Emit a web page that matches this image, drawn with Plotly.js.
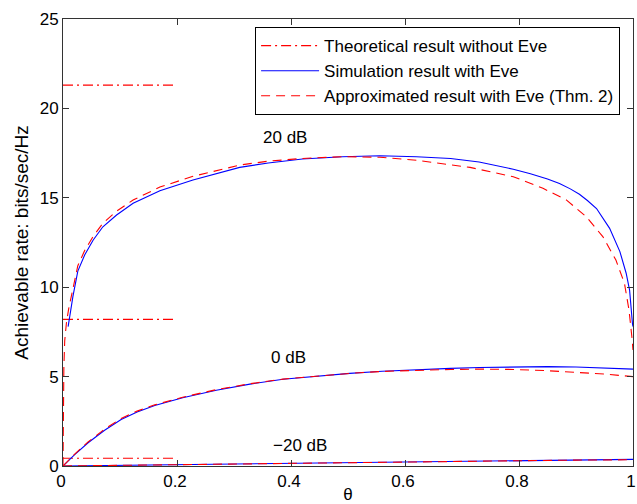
<!DOCTYPE html>
<html>
<head>
<meta charset="utf-8">
<script src="https://cdn.plot.ly/plotly-3.0.1.min.js"></script>
<style>html,body{margin:0;padding:0;background:#fff;}#chart{width:637px;height:504px;}</style>
</head>
<body>
<div id="chart"></div>
<script>
// Theoretical result without Eve (horizontal reference segments)
const theoX = [0, 0.2];
const theo20 = [21.3, 21.3];
const theo0 = [8.2, 8.2];
const theoM20 = [0.43, 0.43];

// Simulation result with Eve, 20 dB
const sim20X = [0.009, 0.0175, 0.026, 0.038, 0.053, 0.070, 0.094, 0.123, 0.170, 0.228, 0.31, 0.36, 0.42, 0.49, 0.556, 0.62, 0.68, 0.73, 0.79, 0.82, 0.85, 0.871, 0.89, 0.906, 0.92, 0.936, 0.959, 0.977, 0.988, 0.994, 0.999, 1.0];
const sim20Y = [7.8, 9.5, 10.9, 11.8, 12.64, 13.38, 14.04, 14.69, 15.4, 16.0, 16.7, 16.95, 17.17, 17.3, 17.35, 17.3, 17.2, 17.0, 16.6, 16.35, 16.05, 15.8, 15.5, 15.2, 14.85, 14.4, 13.29, 11.99, 10.78, 9.84, 7.98, 7.8];

// Approximated result with Eve, 20 dB
const apx20X = [0, 0.0005, 0.0015, 0.003, 0.006, 0.01, 0.0175, 0.026, 0.038, 0.053, 0.070, 0.094, 0.123, 0.17, 0.228, 0.31, 0.36, 0.42, 0.49, 0.556, 0.62, 0.68, 0.714, 0.79, 0.842, 0.883, 0.918, 0.947, 0.970, 0.985, 0.993, 0.998, 1.0];
const apx20Y = [0, 3.0, 5.5, 7.0, 8.0, 8.8, 9.9, 11.2, 12.05, 12.85, 13.58, 14.25, 14.88, 15.6, 16.2, 16.83, 17.05, 17.2, 17.3, 17.27, 17.1, 16.85, 16.7, 16.18, 15.53, 14.88, 13.94, 12.83, 11.52, 10.22, 8.72, 7.23, 6.49];

// 0 dB
const sim0X = [0, 0.02, 0.044, 0.073, 0.102, 0.13, 0.161, 0.21, 0.269, 0.328, 0.386, 0.445, 0.503, 0.56, 0.62, 0.68, 0.731, 0.79, 0.85, 0.9, 0.95, 1.0];
const sim0Y = [0, 0.62, 1.3, 2.0, 2.6, 3.02, 3.38, 3.82, 4.24, 4.58, 4.85, 5.03, 5.18, 5.3, 5.4, 5.46, 5.51, 5.55, 5.56, 5.54, 5.49, 5.42];
const apx0Y = [0, 0.65, 1.35, 2.06, 2.66, 3.07, 3.42, 3.85, 4.27, 4.6, 4.86, 5.04, 5.18, 5.29, 5.36, 5.4, 5.42, 5.4, 5.33, 5.25, 5.14, 5.0];

// -20 dB
const simM20X = [0, 0.1, 0.2, 0.3, 0.4, 0.5, 0.6, 0.7, 0.8, 0.9, 1.0];
const simM20Y = [0, 0.04, 0.08, 0.12, 0.17, 0.21, 0.25, 0.29, 0.32, 0.35, 0.37];
const apxM20Y = [0, 0.04, 0.08, 0.12, 0.17, 0.21, 0.25, 0.28, 0.31, 0.33, 0.35];

const legendNames = ["Theoretical result without Eve", "Simulation result with Eve", "Approximated result with Eve (Thm. 2)"];
const labelText = ["20 dB", "0 dB", "\u221220 dB"];
const labelX = [0.389, 0.396, 0.415];
const labelY = [18.4, 6.05, 1.17];
const xTickVals = [0, 0.2, 0.4, 0.6, 0.8, 1];
const xTickText = ["0", "0.2", "0.4", "0.6", "0.8", "1"];
const yTickVals = [0, 5, 10, 15, 20, 25];

const red = "#ff0000", blue = "#0000ff";
const dashDot = "10px,4px,2px,4px";
const dashed = "9px,6px";

const traces = [
  {x: theoX, y: theo20, mode: "lines", name: legendNames[0], legendgroup: "t", line: {color: red, width: 1.1, dash: dashDot}},
  {x: theoX, y: theo0, mode: "lines", name: legendNames[0], legendgroup: "t", showlegend: false, line: {color: red, width: 1.1, dash: dashDot}},
  {x: theoX, y: theoM20, mode: "lines", name: legendNames[0], legendgroup: "t", showlegend: false, line: {color: red, width: 1.1, dash: dashDot}},
  {x: sim20X, y: sim20Y, mode: "lines", name: legendNames[1], legendgroup: "s", line: {color: blue, width: 1.1}},
  {x: sim0X, y: sim0Y, mode: "lines", name: legendNames[1], legendgroup: "s", showlegend: false, line: {color: blue, width: 1.1}},
  {x: simM20X, y: simM20Y, mode: "lines", name: legendNames[1], legendgroup: "s", showlegend: false, line: {color: blue, width: 1.1}},
  {x: apx20X, y: apx20Y, mode: "lines", name: legendNames[2], legendgroup: "a", line: {color: red, width: 1.1, dash: dashed}},
  {x: sim0X, y: apx0Y, mode: "lines", name: legendNames[2], legendgroup: "a", showlegend: false, line: {color: red, width: 1.1, dash: dashed}},
  {x: simM20X, y: apxM20Y, mode: "lines", name: legendNames[2], legendgroup: "a", showlegend: false, line: {color: red, width: 1.1, dash: dashed}}
];

const font = "Liberation Sans, Arial, sans-serif";
const layout = {
  width: 637, height: 504,
  margin: {l: 63, r: 4, t: 19, b: 38},
  paper_bgcolor: "#fff", plot_bgcolor: "#fff",
  font: {family: font, size: 17, color: "#000"},
  showlegend: true,
  legend: {x: 0.337, y: 0.982, xanchor: "left", yanchor: "top", bgcolor: "#fff", bordercolor: "#000", borderwidth: 1, font: {family: font, size: 17, color: "#000"}, itemwidth: 58, tracegroupgap: 0},
  xaxis: {range: [0, 1], tickvals: xTickVals, ticktext: xTickText, ticklabeloverflow: "allow", ticklabelshift: -2, ticks: "inside", ticklen: 6, tickcolor: "#333", showline: true, linecolor: "#333", linewidth: 1, mirror: "ticks", showgrid: false, zeroline: false, tickfont: {size: 17}, title: {text: "\u03b8", font: {size: 17}, standoff: 18}, automargin: false},
  yaxis: {range: [0, 25], tickvals: yTickVals, ticklabeloverflow: "allow", ticks: "inside", ticklen: 6, tickcolor: "#333", showline: true, linecolor: "#333", linewidth: 1, mirror: "ticks", showgrid: false, zeroline: false, tickfont: {size: 17}, title: {text: "Achievable rate: bits/sec/Hz", font: {size: 19}, standoff: 6}, automargin: false},
  annotations: labelText.map((t, i) => ({x: labelX[i], y: labelY[i], xref: "x", yref: "y", text: t, showarrow: false, font: {size: 17, color: "#000"}}))
};

Plotly.newPlot("chart", traces, layout, {displayModeBar: false, staticPlot: true});
</script>
</body>
</html>
